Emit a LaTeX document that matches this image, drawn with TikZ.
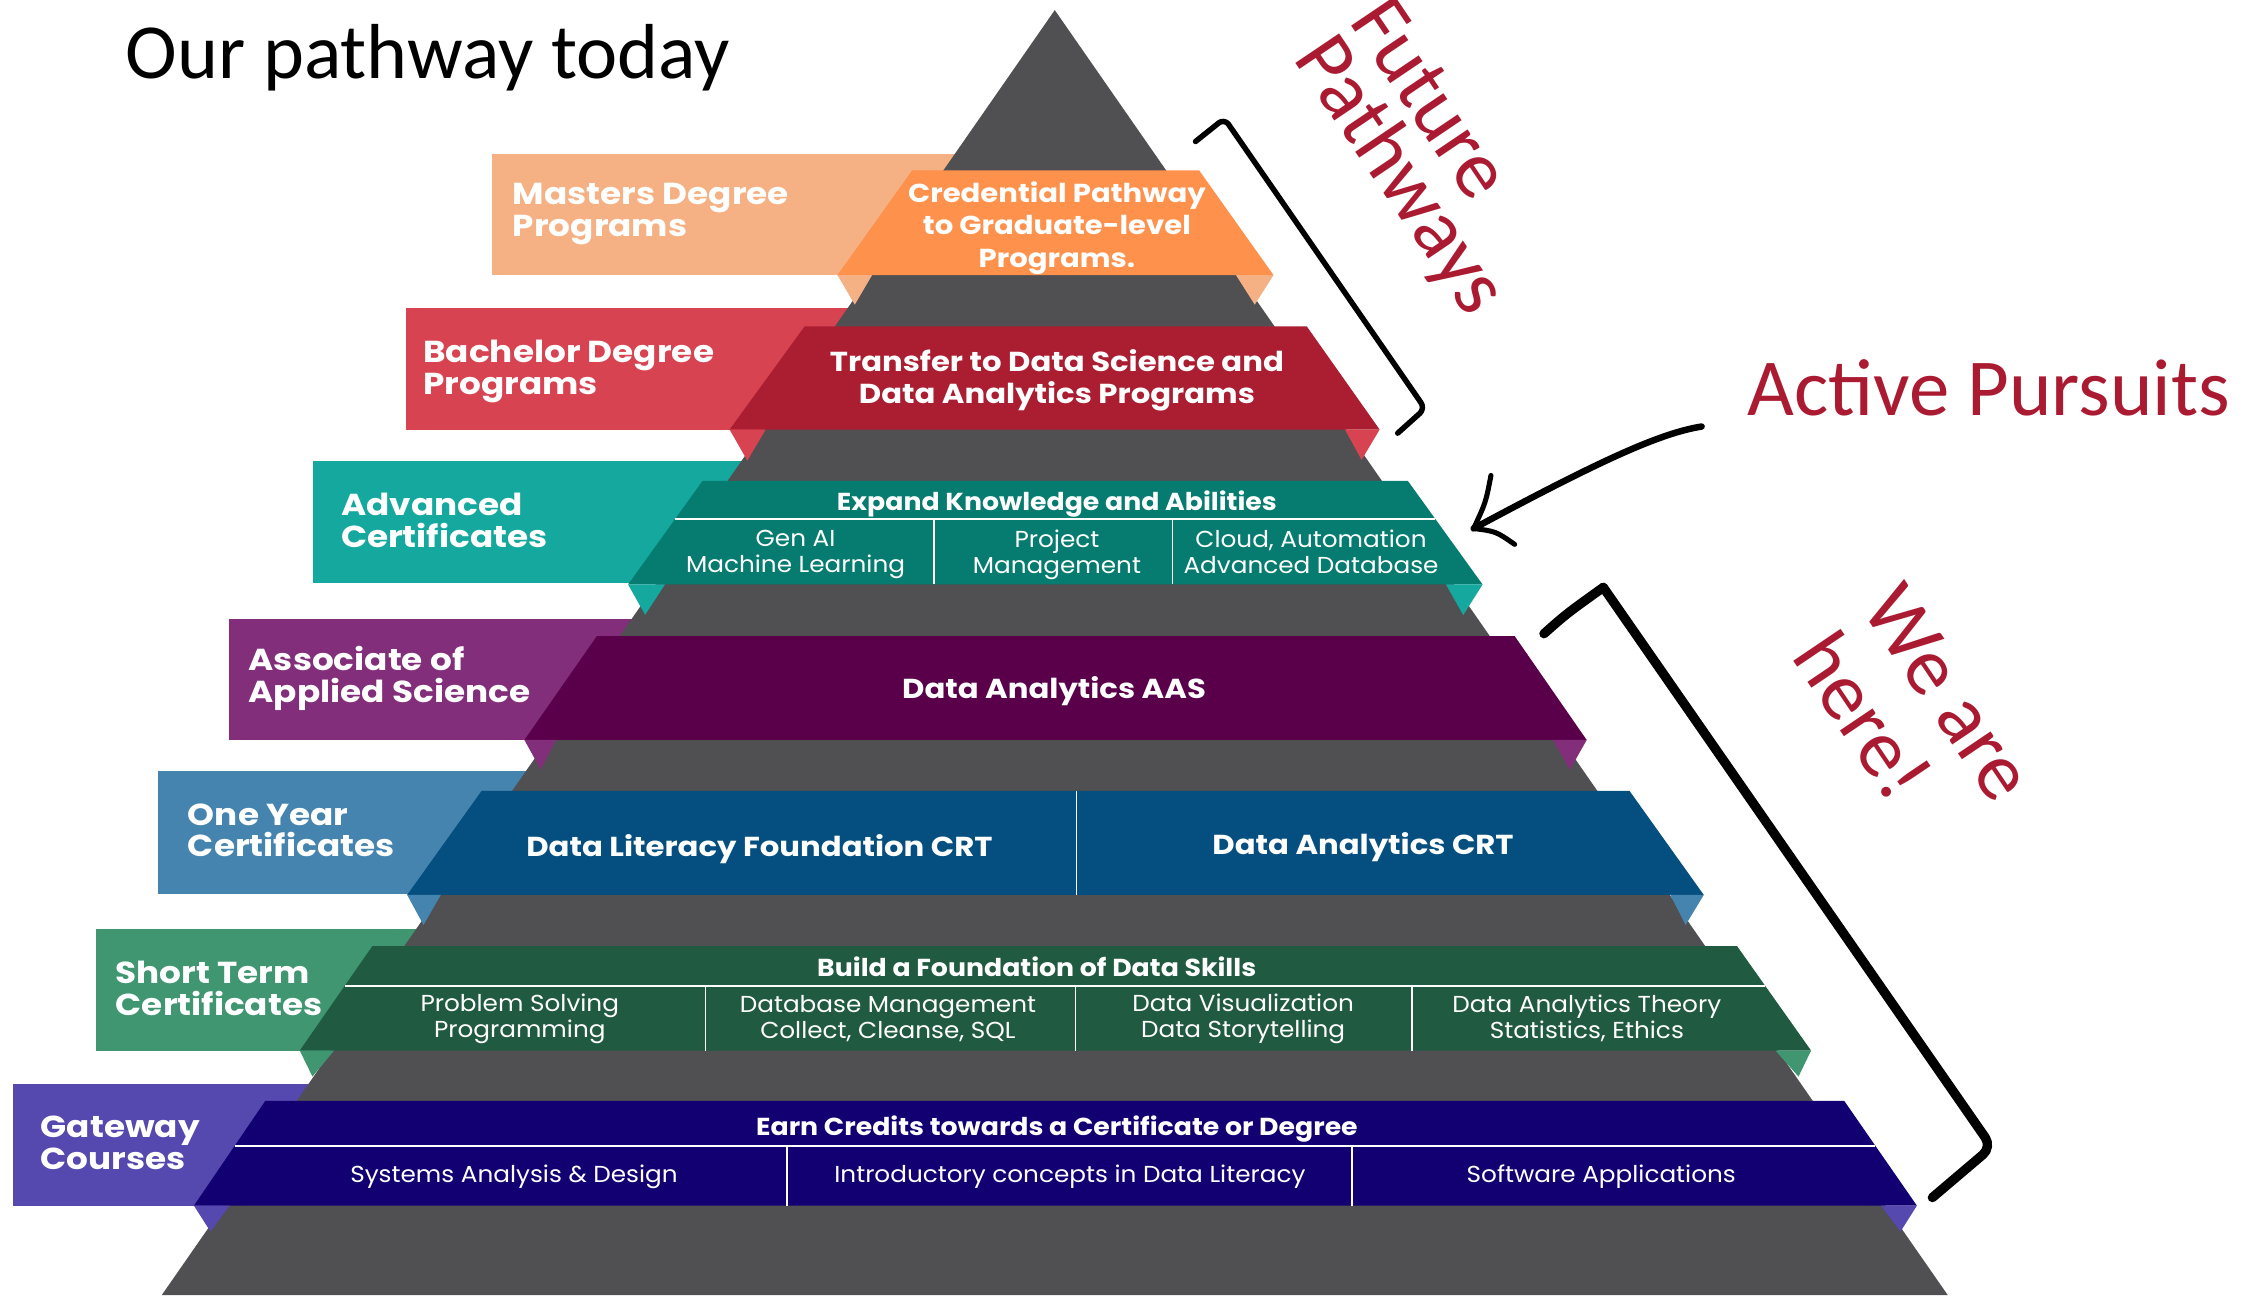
\documentclass[tikz,border=0pt]{standalone}
\usepackage{fontspec}
\setmainfont{Carlito}
\newfontfamily\popL{Poppins}[FakeStretch=1.13]
\newfontfamily\popB{Poppins}[FakeStretch=1.12]
\newfontfamily\popH{Poppins}[FakeStretch=1.09]
\newfontfamily\popS{Poppins}[FakeStretch=1.07]
\usetikzlibrary{calc}
\definecolor{pyr}{RGB}{80,79,81}
\definecolor{crim}{RGB}{170,27,50}
\definecolor{orL}{RGB}{245,177,131}
\definecolor{orD}{RGB}{254,146,77}
\definecolor{rdL}{RGB}{216,67,82}
\definecolor{rdD}{RGB}{171,30,50}
\definecolor{tlL}{RGB}{20,168,158}
\definecolor{tlD}{RGB}{6,123,112}
\definecolor{puL}{RGB}{131,46,122}
\definecolor{puD}{RGB}{90,0,74}
\definecolor{blL}{RGB}{68,132,174}
\definecolor{blD}{RGB}{4,79,127}
\definecolor{grL}{RGB}{63,150,113}
\definecolor{grD}{RGB}{32,90,64}
\definecolor{inL}{RGB}{85,72,174}
\definecolor{inD}{RGB}{18,0,114}
\begin{document}
\begin{tikzpicture}[x=1pt,y=-1pt,
  lbl/.style={anchor=west, align=left, text=white, inner sep=0pt, font=\popL\bfseries\fontsize{21}{22}\selectfont},
  big/.style={text=white, inner sep=0pt, align=center, font=\popB\bfseries\fontsize{19}{22.5}\selectfont},
  hd/.style={text=white, inner sep=0pt, align=center, font=\popH\bfseries\fontsize{17}{20}\selectfont},
  sub/.style={text=white, inner sep=0pt, align=center, font=\popS\fontsize{16}{18}\selectfont},
  hand/.style={font=\fontsize{56}{56}\selectfont, text=crim, inner sep=0pt},
  wl/.style={draw=white, line width=1.5pt},
  vl/.style={draw=white, line width=1pt},
  ink/.style={draw=black, line join=round, line cap=round}]
\fill[white] (0,0) rectangle (1568,897);
\useasboundingbox (0,0) rectangle (1568,897);
% label rectangles (behind the pyramid)
\fill[orL] (341,107) rectangle (730,190.5);
\fill[rdL] (281,213.5) rectangle (730,297.5);
\fill[tlL] (217,319) rectangle (730,404);
\fill[puL] (158.5,428.5) rectangle (730,512.5);
\fill[blL] (109.5,534) rectangle (730,619.5);
\fill[grL] (66.3,643.6) rectangle (730,727.6);
\fill[inL] (8.8,751) rectangle (730,835);
% pyramid
\fill[pyr] (730.5,7) -- (1349,897) -- (112,897) -- cycle;
% band 1
\fill[orD] (631.7,118) -- (830.5,118) -- (882,190.5) -- (580,190.5) -- cycle;
\fill[orL] (580,190.5) -- (604,190.5) -- (592,211) -- cycle;
\fill[orL] (856,190.5) -- (882,190.5) -- (869,211) -- cycle;
% band 2
\fill[rdD] (557.3,226) -- (905,226) -- (955.5,297.5) -- (505.3,297.5) -- cycle;
\fill[rdL] (505.3,297.5) -- (530.3,297.5) -- (517.6,319) -- cycle;
\fill[rdL] (931.5,297.5) -- (955.5,297.5) -- (943,318.5) -- cycle;
% band 3
\coordinate (t1) at (486.6,333); \coordinate (t2) at (975,333);
\coordinate (t3) at (1026.8,404.8); \coordinate (t4) at (435,404.8);
\fill[tlD] (t1) -- (t2) -- (t3) -- (t4) -- cycle;
\fill[tlL] (435,404.8) -- (460.5,404.8) -- (446.8,425.8) -- cycle;
\fill[tlL] (1001.4,404.8) -- (1026.8,404.8) -- (1013.4,426) -- cycle;
\draw[wl] ($(t1)!0.368!(t4)$) -- ($(t2)!0.368!(t3)$);
\draw[vl] (647,359.4) -- (647,404.8);
\draw[vl] (812,359.4) -- (812,404.8);
% band 4
\fill[puD] (413.4,440.5) -- (1049,440.5) -- (1098.9,512.5) -- (363.2,512.5) -- cycle;
\fill[puL] (363.2,512.5) -- (385,512.5) -- (374.5,533) -- cycle;
\fill[puL] (1075.6,512.5) -- (1098.9,512.5) -- (1087.3,533) -- cycle;
% band 5
\fill[blD] (333.5,547.8) -- (1128.6,547.8) -- (1180,619.8) -- (282,619.8) -- cycle;
\fill[blL] (282,619.8) -- (305.3,619.8) -- (293.3,640.6) -- cycle;
\fill[blL] (1156.8,619.8) -- (1180,619.8) -- (1167.4,640.6) -- cycle;
\draw[vl] (745.5,547.8) -- (745.5,619.8);
% band 6
\coordinate (g1) at (257.9,655.2); \coordinate (g2) at (1203,655.2);
\coordinate (g3) at (1254.3,727.6); \coordinate (g4) at (207.6,727.6);
\fill[grD] (g1) -- (g2) -- (g3) -- (g4) -- cycle;
\fill[grL] (207.6,727.6) -- (231.4,727.6) -- (216.4,745.6) -- cycle;
\fill[grL] (1229.6,727.6) -- (1254.3,727.6) -- (1245.6,745.6) -- cycle;
\draw[wl] ($(g1)!0.38!(g4)$) -- ($(g2)!0.38!(g3)$);
\draw[vl] (488.5,682.6) -- (488.5,727.6);
\draw[vl] (744.7,682.6) -- (744.7,727.6);
\draw[vl] (977.9,682.6) -- (977.9,727.6);
% band 7
\coordinate (i1) at (183.7,762.5); \coordinate (i2) at (1277.3,762.5);
\coordinate (i3) at (1327.6,835); \coordinate (i4) at (134.3,835);
\fill[inD] (i1) -- (i2) -- (i3) -- (i4) -- cycle;
\fill[inL] (134.3,835) -- (159,835) -- (145.8,853) -- cycle;
\fill[inL] (1302.8,835) -- (1327.6,835) -- (1316.2,853) -- cycle;
\draw[wl] ($(i1)!0.428!(i4)$) -- ($(i2)!0.428!(i3)$);
\draw[vl] (545,793.5) -- (545,835);
\draw[vl] (936.3,793.5) -- (936.3,835);
% label texts
\node[lbl] (l1) at (355,148) {Masters Degree\\Programs};
\node[lbl] (l2) at (293,257) {Bachelor Degree\\Programs};
\node[lbl] (l3) at (236,360.5) {Advanced\\Certificates};
\node[lbl] (l4) at (172,470) {Associate of\\Applied Science};
\node[lbl] (l5) at (130,575) {One Year\\Certificates};
\node[lbl] (l6) at (80,684.5) {Short Term\\Certificates};
\node[lbl] (l7) at (28,791.5) {Gateway\\Courses};
% band texts
\node[big, font=\popB\bfseries\fontsize{18}{22.5}\selectfont] (c1) at (732,158) {Credential Pathway\\to Graduate-level\\Programs.};
\node[big] (c2) at (732,263.5) {Transfer to Data Science and\\Data Analytics Programs};
\node[hd] (c3) at (732,349) {Expand Knowledge and Abilities};
\node[sub] (c3a) at (551,384) {Gen AI\\Machine Learning};
\node[sub] (c3b) at (732,384) {Project\\Management};
\node[sub] (c3c) at (908,382) {Cloud, Automation\\Advanced Database};
\node[big] (c4) at (730,479) {Data Analytics AAS};
\node[big] (c5a) at (526,588) {Data Literacy Foundation CRT};
\node[big] (c5b) at (944,587) {Data Analytics CRT};
\node[hd] (c6) at (718,669.5) {Build a Foundation of Data Skills};
\node[sub] (c6a) at (360,705.5) {Problem Solving\\Programming};
\node[sub] (c6b) at (615,705.5) {Database Management\\Collect, Cleanse, SQL};
\node[sub] (c6c) at (861,705.5) {Data Visualization\\Data Storytelling};
\node[sub] (c6d) at (1099,705) {Data Analytics Theory\\Statistics, Ethics};
\node[hd] (c7) at (732,782) {Earn Credits towards a Certificate or Degree};
\node[sub] (c7a) at (356,815) {Systems Analysis \& Design};
\node[sub] (c7b) at (741,815) {Introductory concepts in Data Literacy};
\node[sub] (c7c) at (1109,815) {Software Applications};
% titles and annotations
\node[anchor=base west, inner sep=0pt, font=\fontsize{54}{60}\selectfont] (title) at (87,54.3) {Our pathway today};
\node[hand, anchor=base west] (ap) at (1210,288.1) {Active Pursuits};
\node[hand, anchor=north west, align=left, rotate=-56, font=\fontsize{57}{46}\selectfont] (fp) at (964,-5.8) {Future\\Pathways};
\node[hand, anchor=north west, align=left, rotate=-56, font=\fontsize{57}{59}\selectfont] (wh) at (1319,401) {We are\\here!};
% brackets and arrow
\coordinate (b1a) at (828,98); \coordinate (b1b) at (848,82);
\coordinate (b1c) at (987,283); \coordinate (b1d) at (968,300);
\draw[ink, line width=3.8pt, rounded corners=5pt] (b1a) -- (b1b) -- (b1c) -- (b1d);
\coordinate (b2a) at (1069.3,438.9); \coordinate (b2b) at (1110.4,406.8);
\coordinate (b2c) at (1379.5,794.4); \coordinate (b2d) at (1338.3,829.4);
\draw[ink, line width=6.5pt] (b2a) .. controls (1085,425) .. (b2b);
\draw[ink, line width=6.5pt, rounded corners=8pt] (b2b) -- (b2c) -- (b2d);
\coordinate (as) at (1178.5,295.4); \coordinate (tip) at (1020.6,366);
\draw[ink, line width=4.5pt] (as) .. controls (1150,300) and (1110,318) .. (tip);
\draw[ink, line width=3.5pt] (1032.6,329.3) .. controls (1029,348) .. (tip) .. controls (1036,368) .. (1049,377);
\end{tikzpicture}
\end{document}
